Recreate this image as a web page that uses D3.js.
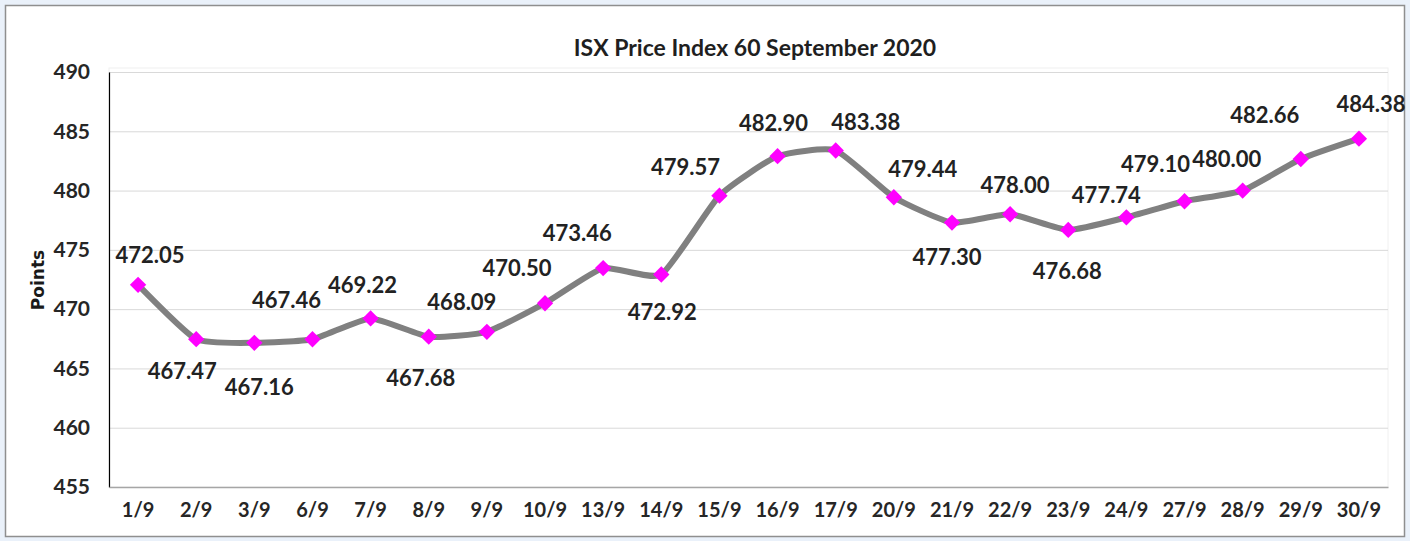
<!DOCTYPE html>
<html>
<head>
<meta charset="utf-8">
<script src="https://cdn.jsdelivr.net/npm/d3@7"></script>
<style>
  body { margin: 0; background: #eaf1fa; }
  svg { display: block; }
  text { font-family: Lato, "Open Sans", sans-serif; font-weight: bold; fill: #262626; }
</style>
</head>
<body>
<script>
// Data
var dates = ["1/9", "2/9", "3/9", "6/9", "7/9", "8/9", "9/9", "10/9", "13/9", "14/9", "15/9",
             "16/9", "17/9", "20/9", "21/9", "22/9", "23/9", "24/9", "27/9", "28/9", "29/9", "30/9"];
var values = [472.05, 467.47, 467.16, 467.46, 469.22, 467.68, 468.09, 470.50, 473.46, 472.92, 479.57,
              482.90, 483.38, 479.44, 477.30, 478.00, 476.68, 477.74, 479.10, 480.00, 482.66, 484.38];
var yTicks = [455, 460, 465, 470, 475, 480, 485, 490];

// Where each data label sits relative to its marker (hand placed, like the original)
var labelDx = [12, -14, 5, -26, -8, -8, -25, -28, -26, 1, -34, -4, 30, 29, -5, 5, -1, -20, -29, -16, -36, 12];
var labelDy = [-30, 32, 44, -39, -33, 41, -30, -35, -35, 38, -29, -33, -28, -28, 34, -29, 41, -22, -37, -31, -44, -35];

var W = 1410, H = 541;
var plot = {left: 109, right: 1388, top: 72, bottom: 487};

var svg = d3.select("body").append("svg")
    .attr("width", W)
    .attr("height", H);

// Chart frame
svg.append("rect")
    .attr("x", 5.5).attr("y", 5.5)
    .attr("width", W - 11).attr("height", H - 10)
    .attr("fill", "#fff")
    .attr("stroke", "#8f8f8f")
    .attr("stroke-width", 1.5);

var xScale = d3.scaleBand()
    .domain(dates)
    .range([plot.left, plot.right]);
var yScale = d3.scaleLinear()
    .domain([455, 490])
    .range([plot.bottom, plot.top]);

// Plot area outline (very faint)
svg.append("rect")
    .attr("x", plot.left).attr("y", plot.top - 4)
    .attr("width", plot.right - plot.left).attr("height", plot.bottom - plot.top + 4)
    .attr("fill", "none")
    .attr("stroke", "#f0f0f0");

// Gridlines
svg.append("g").selectAll("line")
    .data(yTicks.slice(1))
    .enter().append("line")
    .attr("x1", plot.left).attr("x2", plot.right)
    .attr("y1", function(d) { return yScale(d) + 0.5; })
    .attr("y2", function(d) { return yScale(d) + 0.5; })
    .attr("stroke", "#d9d9d9")
    .attr("stroke-width", 1);

// Y axis
var yAxis = svg.append("g")
    .attr("transform", "translate(" + plot.left + ",0)")
    .call(d3.axisLeft(yScale).tickValues(yTicks).tickSize(0).tickPadding(19));
yAxis.select(".domain").attr("stroke", "#000").attr("stroke-width", 1.2);
yAxis.selectAll("text")
    .style("font-family", "Lato, sans-serif")
    .style("font-weight", "bold")
    .style("font-size", "21px")
    .attr("fill", "#222");

// X axis
var xAxis = svg.append("g")
    .attr("transform", "translate(0," + plot.bottom + ")")
    .call(d3.axisBottom(xScale).tickSize(0).tickPadding(16));
xAxis.select(".domain").attr("stroke", "#a6a6a6").attr("stroke-width", 1.5);
xAxis.selectAll("text")
    .style("font-family", "Lato, sans-serif")
    .style("font-weight", "bold")
    .style("font-size", "20px")
    .attr("fill", "#222");

// Title
svg.append("text")
    .attr("x", 755)
    .attr("y", 56)
    .attr("text-anchor", "middle")
    .style("font-size", "23px")
    .style("fill", "#1f1f1f")
    .text("ISX Price Index 60 September 2020");

// Y axis title
svg.append("text")
    .attr("transform", "translate(44,280) rotate(-90)")
    .attr("text-anchor", "middle")
    .style("font-family", "'DejaVu Sans', sans-serif")
    .style("font-size", "17px")
    .style("fill", "#1a1a1a")
    .text("Points");

var cx = function(i) { return xScale(dates[i]) + xScale.bandwidth() / 2; };

// Line (Excel style gentle smoothing)
var line = d3.line()
    .x(function(d, i) { return cx(i); })
    .y(function(d) { return yScale(d); })
    .curve(d3.curveCardinal.tension(0.5));

svg.append("path")
    .datum(values)
    .attr("d", line)
    .attr("fill", "none")
    .attr("stroke", "#808080")
    .attr("stroke-width", 6)
    .attr("stroke-linejoin", "round");

// Markers
var diamond = d3.symbol().type(d3.symbolDiamond2).size(170);
svg.append("g").selectAll("path")
    .data(values)
    .enter().append("path")
    .attr("d", diamond)
    .attr("transform", function(d, i) { return "translate(" + cx(i) + "," + yScale(d) + ")"; })
    .attr("fill", "#ff00ff");

// Data labels
svg.append("g").selectAll("text")
    .data(values)
    .enter().append("text")
    .attr("x", function(d, i) { return cx(i) + labelDx[i]; })
    .attr("y", function(d, i) { return yScale(d) + labelDy[i]; })
    .attr("dy", "0.36em")
    .attr("text-anchor", "middle")
    .style("font-size", "22px")
    .style("fill", "#222")
    .text(function(d) { return d3.format(".2f")(d); });
</script>
</body>
</html>
